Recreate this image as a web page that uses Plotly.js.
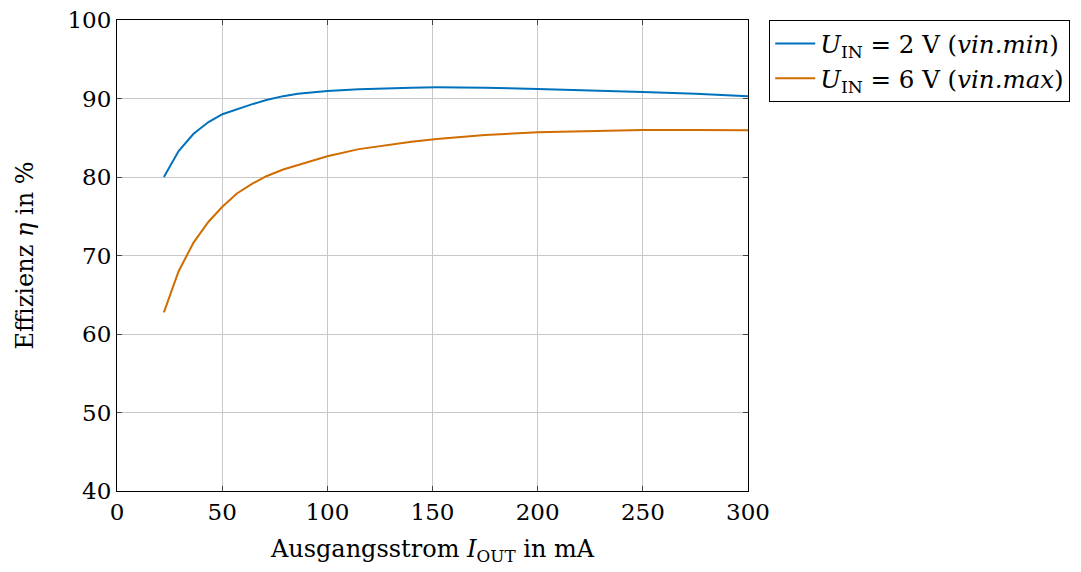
<!DOCTYPE html>
<html>
<head>
<meta charset="utf-8">
<script src="https://cdn.plot.ly/plotly-3.0.1.min.js"></script>
<style>html,body{margin:0;padding:0;background:#fff;}</style>
</head>
<body>
<div id="chart" style="width:1081px;height:572px;"></div>
<script>
// Data
const currentMA = [22.3, 29.3, 36.4, 43.5, 50.1, 57, 64, 71, 79, 86, 93, 100, 115, 126, 140, 152, 175, 200, 225, 250, 275, 300];
const effMin = [80.0, 83.3, 85.5, 87.0, 88.0, 88.65, 89.25, 89.8, 90.3, 90.6, 90.8, 90.97, 91.18, 91.28, 91.38, 91.42, 91.38, 91.22, 91.05, 90.84, 90.6, 90.3];
const effMax = [62.75, 68.0, 71.65, 74.3, 76.2, 77.9, 79.1, 80.1, 80.95, 81.55, 82.1, 82.65, 83.55, 83.98, 84.5, 84.85, 85.35, 85.69, 85.88, 85.98, 86.0, 85.97];
const seriesNames = ['<i>U</i><sub>IN</sub> = 2 V (<i>vin.min</i>)', '<i>U</i><sub>IN</sub> = 6 V (<i>vin.max</i>)'];
const xTicks = [0, 50, 100, 150, 200, 250, 300];
const yTicks = [40, 50, 60, 70, 80, 90, 100];

const FONT = 'DejaVu Serif';
const traces = [
  {x: currentMA, y: effMin, name: seriesNames[0], type: 'scatter', mode: 'lines', line: {color: '#0072BD', width: 2}},
  {x: currentMA, y: effMax, name: seriesNames[1], type: 'scatter', mode: 'lines', line: {color: '#D06D00', width: 2}}
];
const axisCommon = {
  showline: true, linecolor: '#000', linewidth: 1, mirror: 'ticks',
  ticks: 'inside', ticklen: 5, tickcolor: '#444', tickwidth: 1,
  showgrid: true, gridcolor: '#c8c8c8', gridwidth: 1, zeroline: false,
  tickfont: {family: FONT, size: 23, color: '#000'}
};
const layout = {
  width: 1081, height: 572,
  margin: {l: 117, r: 332, t: 20, b: 81},
  paper_bgcolor: '#fff', plot_bgcolor: '#fff',
  font: {family: FONT, color: '#000'},
  showlegend: true,
  legend: {x: 1.032, y: 1.0, xanchor: 'left', yanchor: 'top', bordercolor: '#000', borderwidth: 1,
    font: {family: FONT, size: 24.5, color: '#000'}, tracegroupgap: 0, itemwidth: 40},
  xaxis: Object.assign({}, axisCommon, {range: [0, 300], tickvals: xTicks, ticktext: xTicks.map(String),
    title: {text: 'Ausgangsstrom <i>I</i><sub>OUT</sub> in mA', font: {family: FONT, size: 24, color: '#000'}, standoff: 16}}),
  yaxis: Object.assign({}, axisCommon, {range: [40, 100], tickvals: yTicks, ticktext: yTicks.map(String),
    title: {text: 'Effizienz <i>η</i> in %', font: {family: FONT, size: 24, color: '#000'}, standoff: 27}})
};
Plotly.newPlot('chart', traces, layout, {displayModeBar: false, staticPlot: true});
</script>
</body>
</html>
